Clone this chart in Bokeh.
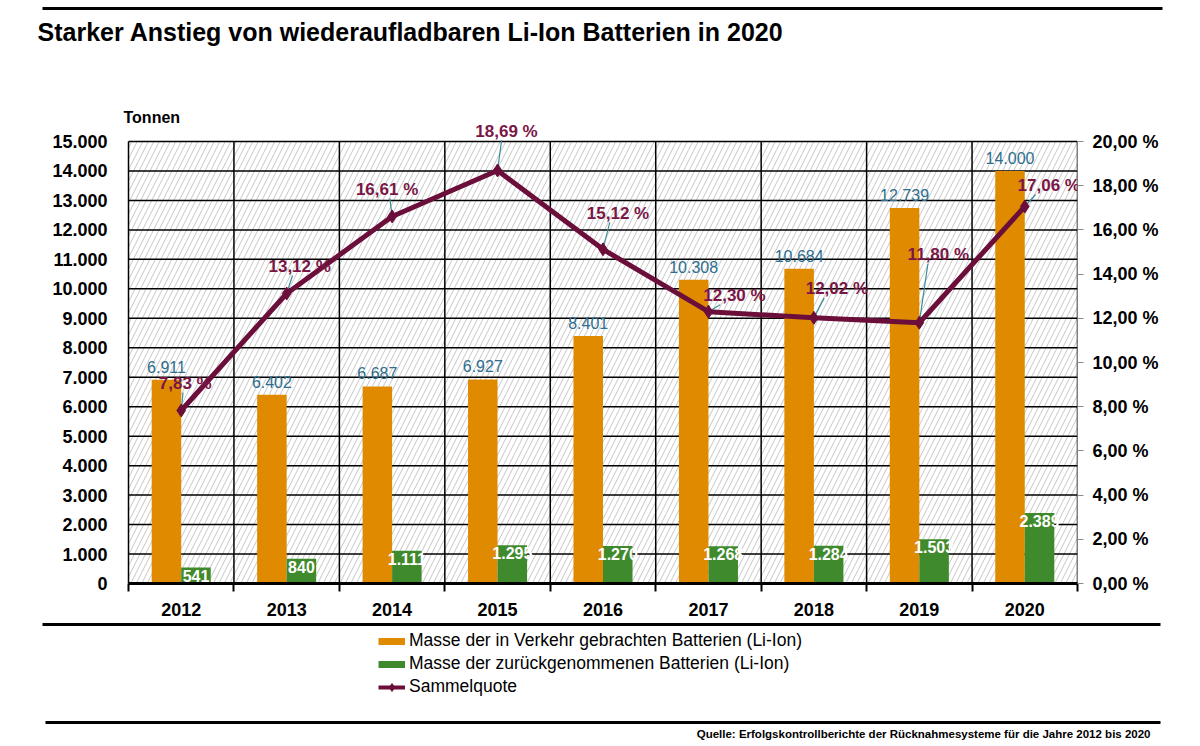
import numpy as np
from bokeh.plotting import figure
from bokeh.core.properties import value
from bokeh.models import (ColumnDataSource, Range1d, LinearAxis, FixedTicker, Label,
                          LabelSet, Legend, LegendItem, BoxAnnotation)
from bokeh.embed import file_html
from bokeh.resources import INLINE

years = ["2012", "2013", "2014", "2015", "2016", "2017", "2018", "2019", "2020"]
verkehr = [6911, 6402, 6687, 6927, 8401, 10308, 10684, 12739, 14000]
zurueck = [541, 840, 1111, 1295, 1270, 1268, 1284, 1503, 2389]
quote = [7.83, 13.12, 16.61, 18.69, 15.12, 12.30, 12.02, 11.80, 17.06]

# where each percentage label sits relative to its point (px, right / up)
q_dx = [4, 13, -5, 9, 15, 26, 23, 19, 24]
q_dy = [27, 27, 27, 39, 36, 16, 29, 68, 21]

FONT = "Liberation Sans"
ORANGE = "#E08A00"
GREEN = "#3F8A2C"
MAROON = "#6B0F3A"
TEAL = "#2E6E8E"

# page geometry (px)
W = 1200
TOP_H, MID_H, BOT_H = 100, 518, 128
BOX_L, BOX_R, BOX_T, BOX_B = 128, 1077, 141, 583
FRAME_L, FRAME_T = 118, 110


def de_num(v):
    return f"{v:,}".replace(",", ".")


def de_pct(v):
    return f"{v:.2f}".replace(".", ",") + " %"


n = len(years)
y_max = 15000
p_max = 20
px_x = (BOX_R - BOX_L) / n
px_p = (BOX_B - BOX_T) / p_max
stretch = (BOX_B - FRAME_T) / (BOX_B - BOX_T)

pos = np.arange(n) + 0.5
w = 0.28
source = ColumnDataSource(dict(
    x=pos, x_o=pos - w / 2, x_g=pos + w / 2,
    verkehr=verkehr, zurueck=zurueck, quote=quote,
    lab_v=[de_num(v) for v in verkehr],
    lab_z=[de_num(v) for v in zurueck],
    lab_q=[de_pct(v) for v in quote],
    dx=q_dx, dy=q_dy,
    lx=pos + np.array(q_dx) * 0.45 / px_x,
    ly=np.array(quote) + (np.array(q_dy) - 9) / px_p,
))


def strip(height, y_top):
    s = figure(width=W, height=height, x_range=Range1d(0, W),
               y_range=Range1d(y_top + height, y_top),
               output_backend="svg", toolbar_location=None, title=None,
               x_axis_location=None, y_axis_location=None, min_border=0)
    s.outline_line_color = None
    s.grid.visible = False
    return s


# ---------- top strip: rule + title ----------
p0 = strip(TOP_H, 0)
p0.segment(x0=[42], y0=[8], x1=[1162], y1=[8], line_color="black", line_width=3)
p0.add_layout(Label(x=37, y=31, text="Starker Anstieg von wiederaufladbaren Li-Ion Batterien in 2020",
                    text_font=FONT, text_font_size="25px", text_font_style="bold",
                    text_color="black", text_baseline="middle"))

# ---------- main chart ----------
p = figure(width=W, height=MID_H, output_backend="svg", toolbar_location=None, title=None,
           x_range=Range1d(-(BOX_L - FRAME_L) / px_x, n),
           y_range=Range1d(0, y_max * stretch),
           min_border_left=FRAME_L, min_border_right=W - BOX_R,
           min_border_top=FRAME_T - TOP_H, min_border_bottom=TOP_H + MID_H - BOX_B)
p.outline_line_color = None
p.background_fill_color = "white"
p.grid.visible = False

# hatched plot area
p.add_layout(BoxAnnotation(left=0, right=n, bottom=0, top=y_max, fill_alpha=0, line_color=None,
                           hatch_pattern="/", hatch_color="#c6c6c6", hatch_scale=11,
                           hatch_weight=1, level="image"))

# grid lines of the box
yt = list(range(0, y_max + 1, 1000))
p.segment(x0=[0] * len(yt), y0=yt, x1=[n] * len(yt), y1=yt, line_color="black", line_width=1.5)
xt = list(range(n + 1))
p.segment(x0=xt, y0=[0] * len(xt), x1=xt, y1=[y_max] * len(xt), line_color="black", line_width=1.5)

# left axis
ya = p.yaxis[0]
ya.ticker = FixedTicker(ticks=yt)
ya.major_label_overrides = {v: de_num(v) for v in yt}
ya.axis_line_color = None
ya.major_tick_line_color = None
ya.minor_tick_line_color = None
ya.major_label_text_font = FONT
ya.major_label_text_font_style = "bold"
ya.major_label_text_font_size = "18px"
ya.major_label_text_color = "black"
ya.major_label_standoff = 5

# x axis
xa = p.xaxis[0]
xa.bounds = (0, n)
xa.ticker = FixedTicker(ticks=list(pos), minor_ticks=xt)
xa.major_label_overrides = {float(x): y for x, y in zip(pos, years)}
xa.major_tick_line_color = None
xa.major_tick_out = 0
xa.minor_tick_line_color = "black"
xa.minor_tick_line_width = 2
xa.minor_tick_out = 8
xa.minor_tick_in = 0
xa.axis_line_color = "black"
xa.axis_line_width = 3
xa.major_label_text_font = FONT
xa.major_label_text_font_style = "bold"
xa.major_label_text_font_size = "18px"
xa.major_label_text_color = "black"
xa.major_label_standoff = 11

# right axis for the collection rate
pt = list(range(0, p_max + 1, 2))
p.extra_y_ranges = {"pct": Range1d(0, p_max * stretch)}
ra = LinearAxis(y_range_name="pct", bounds=(0, p_max))
ra.ticker = FixedTicker(ticks=pt)
ra.major_label_overrides = {v: de_pct(v) for v in pt}
ra.axis_line_color = None
ra.major_tick_line_color = "#8c8c8c"
ra.major_tick_out = 6
ra.major_tick_in = 0
ra.minor_tick_line_color = None
ra.major_label_text_font = FONT
ra.major_label_text_font_style = "bold"
ra.major_label_text_font_size = "18px"
ra.major_label_text_color = "black"
ra.major_label_standoff = 9
p.add_layout(ra, "right")

p.vbar(x="x_o", top="verkehr", width=w, source=source, fill_color=ORANGE, line_color=None)
p.vbar(x="x_g", top="zurueck", width=w, source=source, fill_color=GREEN, line_color=None)
p.segment(x0="x", y0="quote", x1="lx", y1="ly", source=source, y_range_name="pct",
          line_color="#3A8C9A", line_width=1.2)
p.line(x="x", y="quote", source=source, y_range_name="pct", line_color=MAROON, line_width=5)
p.scatter(x="x", y="quote", source=source, y_range_name="pct", marker="diamond",
          size=13, fill_color=MAROON, line_color=MAROON)

p.add_layout(LabelSet(x="x_o", y="verkehr", text="lab_v", source=source, y_offset=7,
                      text_align="center", text_baseline="bottom", text_font=value(FONT),
                      text_font_size="16px", text_color=TEAL))
p.add_layout(LabelSet(x="x_g", y="zurueck", text="lab_z", source=source, y_offset=-2,
                      text_align="center", text_baseline="top", text_font=value(FONT),
                      text_font_size="16px", text_font_style="bold", text_color="white"))
p.add_layout(LabelSet(x="x", y="quote", text="lab_q", source=source, y_range_name="pct",
                      x_offset="dx", y_offset="dy", text_align="center", text_baseline="middle",
                      text_font=value(FONT), text_font_size="17px", text_font_style="bold",
                      text_color="#7A1646"))
p.add_layout(Label(x=BOX_L - 5 - FRAME_L, y=BOX_B - 117, x_units="screen", y_units="screen",
                   text="Tonnen", text_font=FONT, text_font_size="16px", text_color="black",
                   text_font_style="bold", text_baseline="middle"))

# ---------- bottom strip: rules, legend, source ----------
p2 = strip(BOT_H, TOP_H + MID_H)
p2.segment(x0=[42, 45], y0=[624, 722], x1=[1160, 1160], y1=[624, 722],
           line_color="black", line_width=3)

k_o = p2.line([np.nan], [np.nan], line_color=ORANGE, line_width=7)
k_g = p2.line([np.nan], [np.nan], line_color=GREEN, line_width=7)
k_l = p2.line([np.nan], [np.nan], line_color=MAROON, line_width=4)
k_p = p2.scatter([np.nan], [np.nan], marker="diamond", size=10, fill_color=MAROON,
                 line_color=MAROON)
legend = Legend(items=[
    LegendItem(label="Masse der in Verkehr gebrachten Batterien (Li-Ion)", renderers=[k_o]),
    LegendItem(label="Masse der zurückgenommenen Batterien (Li-Ion)", renderers=[k_g]),
    LegendItem(label="Sammelquote", renderers=[k_l, k_p]),
], location=(378, 49), border_line_color=None, background_fill_alpha=0,
    padding=0, margin=0, spacing=2, label_standoff=4, glyph_width=27, glyph_height=20,
    label_text_font=FONT, label_text_font_size="17.5px", label_text_color="black",
    label_height=20)
p2.add_layout(legend)
p2.add_layout(Label(x=1150, y=733,
                    text="Quelle: Erfolgskontrollberichte der Rücknahmesysteme für die Jahre 2012 bis 2020",
                    text_font=FONT, text_font_size="11.5px", text_font_style="bold",
                    text_color="black", text_align="right", text_baseline="middle"))

open("out.html", "w").write(file_html([p0, p, p2], INLINE))
